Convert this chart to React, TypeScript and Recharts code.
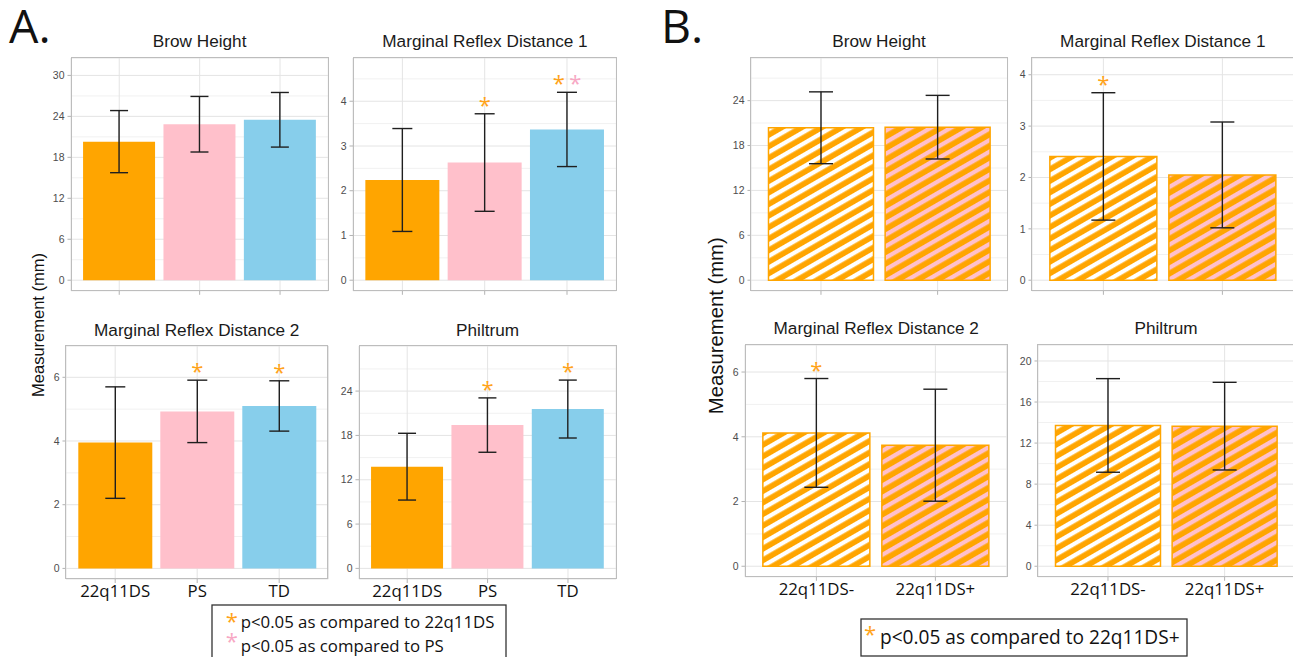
import React from 'react';
import { ComposedChart, Bar, Cell, ErrorBar, Line, XAxis, YAxis, CartesianGrid } from 'recharts';

// A: 22q11DS vs PS vs TD
const groupsA = ['22q11DS', 'PS', 'TD'];
const browMeanA = [20.3, 22.85, 23.5];
const browSdA = [4.55, 4.07, 4.0];
const mrd1MeanA = [2.24, 2.63, 3.37];
const mrd1SdA = [1.15, 1.09, 0.83];
const mrd2MeanA = [3.95, 4.93, 5.1];
const mrd2SdA = [1.75, 0.98, 0.79];
const philMeanA = [13.77, 19.4, 21.57];
const philSdA = [4.52, 3.68, 3.92];

const browStarsA = [[], [], []];
const mrd1StarsA = [[], ['22q11DS'], ['22q11DS', 'PS']];
const mrd2StarsA = [[], ['22q11DS'], ['22q11DS']];
const philStarsA = [[], ['22q11DS'], ['22q11DS']];

// B: 22q11DS- vs 22q11DS+
const groupsB = ['22q11DS-', '22q11DS+'];
const browMeanB = [20.37, 20.45];
const browSdB = [4.8, 4.25];
const mrd1MeanB = [2.41, 2.05];
const mrd1SdB = [1.24, 1.03];
const mrd2MeanB = [4.12, 3.74];
const mrd2SdB = [1.68, 1.73];
const philMeanB = [13.72, 13.65];
const philSdB = [4.56, 4.27];

const browStarsB = [[], []];
const mrd1StarsB = [['22q11DS+'], []];
const mrd2StarsB = [['22q11DS+'], []];
const philStarsB = [[], []];

// y axes: ticks + top of the data range (ggplot adds 5% each side)
const browTicksA = [0, 6, 12, 18, 24, 30];
const mrd1TicksA = [0, 1, 2, 3, 4];
const mrd2TicksA = [0, 2, 4, 6];
const philTicksA = [0, 6, 12, 18, 24];
const browTicksB = [0, 6, 12, 18, 24];
const mrd1TicksB = [0, 1, 2, 3, 4];
const mrd2TicksB = [0, 2, 4, 6];
const philTicksB = [0, 4, 8, 12, 16, 20];

const ORANGE = '#FFA500';
const PINK = '#FFC0CB';
const BLUE = '#87CEEB';
const starColor: Record<string, string> = { '22q11DS': '#FFA31A', PS: '#F7A8C4', '22q11DS+': '#FFA31A' };

const SANS = "'Liberation Sans', Arial, sans-serif";
const MYRIAD = "'Open Sans', sans-serif";

type PanelDef = {
  id: string;
  title: string;
  cats: string[];
  means: number[];
  sds: number[];
  stars: string[][];
  ticks: number[];
  yMax: number;
  rect: [number, number, number, number];
  titleY: number;
  hatched?: boolean;
  labels?: boolean;
  cap: number;
};

const panels: PanelDef[] = [
  { id: 'a1', title: 'Brow Height', cats: groupsA, means: browMeanA, sds: browSdA, stars: browStarsA, ticks: browTicksA, yMax: 31.0, rect: [71, 57.5, 328.3, 290.3], titleY: 47.3, cap: 9 },
  { id: 'a2', title: 'Marginal Reflex Distance 1', cats: groupsA, means: mrd1MeanA, sds: mrd1SdA, stars: mrd1StarsA, ticks: mrd1TicksA, yMax: 4.73, rect: [353.3, 57.5, 616.7, 290.3], titleY: 47.3, cap: 10 },
  { id: 'a3', title: 'Marginal Reflex Distance 2', cats: groupsA, means: mrd2MeanA, sds: mrd2SdA, stars: mrd2StarsA, ticks: mrd2TicksA, yMax: 6.65, rect: [65.5, 345.5, 327.9, 578.5], titleY: 335.7, labels: true, cap: 10 },
  { id: 'a4', title: 'Philtrum', cats: groupsA, means: philMeanA, sds: philSdA, stars: philStarsA, ticks: philTicksA, yMax: 28.67, rect: [359, 345.5, 616.2, 578.5], titleY: 335.7, labels: true, cap: 9 },
  { id: 'b1', title: 'Brow Height', cats: groupsB, means: browMeanB, sds: browSdB, stars: browStarsB, ticks: browTicksB, yMax: 28.28, rect: [750.7, 57.5, 1007.3, 290.3], titleY: 47.3, hatched: true, cap: 12 },
  { id: 'b2', title: 'Marginal Reflex Distance 1', cats: groupsB, means: mrd1MeanB, sds: mrd1SdB, stars: mrd1StarsB, ticks: mrd1TicksB, yMax: 4.12, rect: [1031.9, 57.5, 1293.7, 290.3], titleY: 47.3, hatched: true, cap: 12 },
  { id: 'b3', title: 'Marginal Reflex Distance 2', cats: groupsB, means: mrd2MeanB, sds: mrd2SdB, stars: mrd2StarsB, ticks: mrd2TicksB, yMax: 6.51, rect: [745.3, 344.7, 1007.1, 576.5], titleY: 334, hatched: true, labels: true, cap: 12 },
  { id: 'b4', title: 'Philtrum', cats: groupsB, means: philMeanB, sds: philSdB, stars: philStarsB, ticks: philTicksB, yMax: 20.53, rect: [1037.7, 344.7, 1294.3, 576.5], titleY: 334, hatched: true, labels: true, cap: 12 },
];

const minorOf = (ticks: number[], top: number) => {
  const step = ticks[1] - ticks[0];
  const out = ticks.map((t) => t + step / 2);
  return out.filter((v) => v < top);
};

const CatTick = (props: any) => {
  const { x, y, payload } = props;
  return (
    <text x={x} y={y + 12.5} textAnchor="middle" fontFamily={MYRIAD} fontSize={16.8} fill="#111">
      {payload.value}
    </text>
  );
};

const NoTick = () => <g />;

function Panel({ p }: { p: PanelDef }) {
  const [l, t, r, b] = p.rect;
  const w = r - l;
  const h = b - t;
  const step = w / (p.cats.length + 0.2);
  const pad = step * 0.1;
  const YW = 40, MT = 2, MR = 2, XH = 32;
  const lo = -0.05 * p.yMax;
  const hi = 1.05 * p.yMax;
  const rows = p.cats.map((c, i) => ({
    cat: c,
    mean: p.means[i],
    sd: p.sds[i],
    top: p.means[i] + p.sds[i],
    stars: p.stars[i],
  }));
  const stripes = ['#FFFFFF', PINK];
  const solid = [ORANGE, PINK, BLUE];

  const renderStars = (props: any) => {
    const { cx, cy, payload, index } = props;
    const s: string[] = payload.stars || [];
    return (
      <g key={`st-${p.id}-${index}`}>
        {s.map((k, j) => (
          <text
            key={j}
            x={cx + (j - (s.length - 1) / 2) * 16.6}
            y={cy - 1}
            textAnchor="middle"
            fontFamily={MYRIAD}
            fontSize={22}
            fill={starColor[k]}
          >
            *
          </text>
        ))}
      </g>
    );
  };

  return (
    <>
      <div style={{ position: 'absolute', left: l - YW, top: t - MT }}>
        <ComposedChart
          width={YW + w + MR}
          height={MT + h + XH}
          data={rows}
          margin={{ top: MT, right: MR, bottom: 0, left: 0 }}
          barCategoryGap="5%"
        >
          <defs>
            {stripes.map((c, i) => (
              <pattern
                key={i}
                id={`hatch-${p.id}-${i}`}
                patternUnits="userSpaceOnUse"
                width={10}
                height={10}
                patternTransform="rotate(-30)"
              >
                <rect width={10} height={10} fill={ORANGE} />
                <rect width={10} height={4.3} fill={c} />
              </pattern>
            ))}
          </defs>
          <CartesianGrid horizontalValues={minorOf(p.ticks, hi)} vertical={false} stroke="#f1f1f1" />
          <CartesianGrid stroke="#e4e4e4" />
          <XAxis
            dataKey="cat"
            type="category"
            padding={{ left: pad, right: pad }}
            height={XH}
            axisLine={false}
            tickLine={{ stroke: '#b3b3b3' }}
            tickSize={4}
            tickMargin={2}
            interval={0}
            tick={p.labels ? CatTick : NoTick}
          />
          <YAxis
            type="number"
            domain={[lo, hi]}
            ticks={p.ticks}
            allowDataOverflow
            width={YW}
            axisLine={false}
            tickLine={{ stroke: '#b3b3b3' }}
            tickSize={3.5}
            tickMargin={3}
            interval={0}
            tick={{ fontSize: 10.5, fill: '#4d4d4d', fontFamily: SANS }}
          />
          <Bar dataKey="mean" isAnimationActive={false}>
            {rows.map((row, i) =>
              p.hatched ? (
                <Cell key={row.cat} fill={`url(#hatch-${p.id}-${i})`} stroke={ORANGE} strokeWidth={1.5} />
              ) : (
                <Cell key={row.cat} fill={solid[i]} />
              )
            )}
            <ErrorBar dataKey="sd" width={p.cap} strokeWidth={1.4} stroke="#1f1f1f" direction="y" isAnimationActive={false} />
          </Bar>
          <Line
            dataKey="top"
            stroke="none"
            isAnimationActive={false}
            dot={renderStars}
            activeDot={false}
            legendType="none"
          />
        </ComposedChart>
      </div>
      <div
        style={{
          position: 'absolute',
          left: l - 0.5,
          top: t - 0.5,
          width: w + 1,
          height: h + 1,
          border: '1px solid #bdbdbd',
          boxSizing: 'border-box',
          pointerEvents: 'none',
        }}
      />
    </>
  );
}

export default function App() {
  return (
    <div
      style={{
        position: 'absolute',
        left: 0,
        top: 0,
        width: 1293,
        height: 657,
        overflow: 'hidden',
        background: '#fff',
      }}
    >
      {panels.map((p) => (
        <Panel key={p.id} p={p} />
      ))}
      <svg
        width={1293}
        height={657}
        style={{ position: 'absolute', left: 0, top: 0, pointerEvents: 'none' }}
      >
        <text x={9} y={43.3} fontFamily={MYRIAD} fontSize={46.5} fill="#111">A.</text>
        <text x={661} y={43.3} fontFamily={MYRIAD} fontSize={46.5} fill="#111">B.</text>

        {panels.map((p) => (
          <text
            key={p.id}
            x={(p.rect[0] + p.rect[2]) / 2}
            y={p.titleY}
            textAnchor="middle"
            fontFamily={SANS}
            fontSize={17.2}
            fill="#1a1a1a"
          >
            {p.title}
          </text>
        ))}

        <text transform="translate(44,325) rotate(-90)" textAnchor="middle" fontFamily={SANS} fontSize={16.5} fill="#111">
          Measurement (mm)
        </text>
        <text transform="translate(723,325.7) rotate(-90)" textAnchor="middle" fontFamily={SANS} fontSize={20.3} fill="#111">
          Measurement (mm)
        </text>

        <rect x={212} y={605} width={294} height={70} fill="#fff" stroke="#333" strokeWidth={1.3} />
        <text x={231.7} y={629} textAnchor="middle" fontFamily={MYRIAD} fontSize={22} fill={starColor['22q11DS']}>*</text>
        <text x={240.7} y={628.3} fontFamily={MYRIAD} fontSize={16.8} fill="#111">p&lt;0.05 as compared to 22q11DS</text>
        <text x={231.7} y={648.5} textAnchor="middle" fontFamily={MYRIAD} fontSize={22} fill={starColor.PS}>*</text>
        <text x={240.7} y={651.7} fontFamily={MYRIAD} fontSize={16.8} fill="#111">p&lt;0.05 as compared to PS</text>

        <rect x={861} y={619} width={326} height={37} fill="#fff" stroke="#333" strokeWidth={1.3} />
        <text x={870} y={642} textAnchor="middle" fontFamily={MYRIAD} fontSize={22} fill={starColor['22q11DS+']}>*</text>
        <text x={880} y={644.3} fontFamily={MYRIAD} fontSize={19.1} fill="#111">p&lt;0.05 as compared to 22q11DS+</text>
      </svg>
    </div>
  );
}
